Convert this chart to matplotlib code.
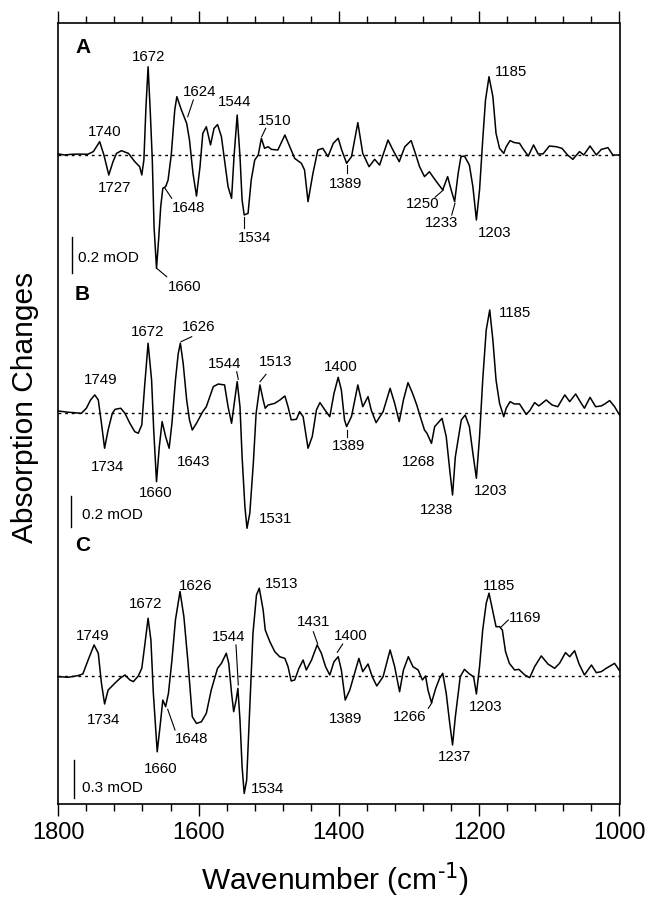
import matplotlib
matplotlib.use("Agg")
import matplotlib.pyplot as plt
from matplotlib.ticker import MultipleLocator
from matplotlib.transforms import Affine2D
from matplotlib.lines import Line2D

plt.rcParams['font.family'] = ['Liberation Sans', 'DejaVu Sans']
plt.rcParams['mathtext.default'] = 'regular'

# ---------------- data (wavenumber in cm-1, absorption change in mOD) ----------------
wn_a = [1800, 1791, 1781, 1769, 1758, 1750, 1741, 1735, 1728, 1722,
        1717, 1710, 1700, 1691, 1684, 1681, 1678, 1675, 1672, 1669,
        1666, 1663.5, 1660, 1657, 1654, 1651, 1647, 1643.5, 1639, 1634,
        1631, 1624.5, 1617, 1613, 1608, 1603, 1598, 1594, 1589, 1583,
        1578, 1573, 1567.5, 1563, 1558, 1553, 1549.5, 1545, 1541, 1538,
        1535, 1529.5, 1525, 1520, 1515, 1510.5, 1506, 1501, 1496, 1487,
        1477, 1470, 1463, 1453.5, 1449, 1444, 1437, 1430, 1423, 1415.5,
        1408, 1401, 1396, 1389, 1382, 1373, 1366, 1357, 1349, 1342,
        1330, 1323, 1314, 1306, 1297, 1291, 1285, 1278, 1271, 1261,
        1252, 1245, 1240, 1235, 1230, 1226, 1221, 1214, 1209, 1204,
        1199.5, 1195, 1191, 1186, 1180.5, 1176, 1171, 1165, 1161.5, 1156,
        1150, 1142.5, 1138, 1130, 1122.5, 1116, 1109, 1100, 1090, 1082,
        1074, 1066.5, 1057, 1051, 1042, 1033, 1026, 1016.5, 1009.5, 1000]
od_a = [0.006, 0.0, 0.004, 0.005, 0.004, 0.019, 0.074, 0.0, -0.111, -0.037,
        0.009, 0.024, 0.009, -0.037, -0.065, -0.111, -0.028, 0.27, 0.49, 0.25,
        -0.028, -0.40, -0.63, -0.47, -0.287, -0.185, -0.176, -0.139, 0.0, 0.25,
        0.324, 0.25, 0.176, 0.083, -0.102, -0.228, -0.065, 0.12, 0.157, 0.056,
        0.148, 0.169, 0.102, -0.028, -0.176, -0.241, -0.009, 0.222, -0.009, -0.25,
        -0.333, -0.324, -0.139, -0.028, 0.0, 0.093, 0.037, 0.046, 0.031, 0.028,
        0.111, 0.046, -0.019, -0.046, -0.083, -0.259, -0.102, 0.028, 0.037, -0.009,
        0.065, 0.093, 0.028, -0.046, -0.009, 0.18, 0.009, -0.065, -0.024, -0.056,
        0.083, 0.028, -0.037, 0.046, 0.08, 0.009, -0.065, -0.12, -0.093, -0.148,
        -0.194, -0.12, -0.194, -0.259, -0.102, -0.009, -0.006, -0.056, -0.176, -0.361,
        -0.194, 0.083, 0.306, 0.435, 0.324, 0.12, 0.037, 0.009, 0.046, 0.08,
        0.069, 0.065, 0.037, -0.006, 0.056, 0.006, 0.006, 0.05, 0.046, 0.037,
        0.0, -0.024, 0.019, 0.0, 0.05, 0.0, 0.031, 0.041, 0.0, 0.0]

wn_b = [1800, 1786, 1767, 1760, 1754, 1748, 1743, 1738.5, 1734, 1729,
        1723, 1719, 1711, 1705, 1698, 1691, 1686, 1681, 1677, 1672,
        1667, 1664, 1660, 1656, 1652, 1647, 1642, 1638, 1633, 1629,
        1626, 1622, 1617, 1613, 1609, 1603, 1598, 1594, 1589, 1584,
        1579, 1572, 1563, 1558, 1553, 1548.5, 1545, 1541, 1538, 1534,
        1531, 1527, 1522, 1518, 1512.5, 1508, 1505, 1501, 1491.5, 1484,
        1477, 1472.5, 1468, 1460.5, 1456, 1451, 1444, 1438, 1432, 1427,
        1420, 1413, 1407, 1401, 1396.5, 1392, 1389, 1382, 1373, 1366,
        1358.5, 1354, 1347, 1337, 1327, 1320.5, 1314, 1308, 1301.5, 1295,
        1289, 1284, 1278, 1274.5, 1268, 1263.5, 1257, 1253, 1247, 1242,
        1238, 1234, 1225.5, 1220, 1214, 1209, 1204, 1199.5, 1195, 1190,
        1185, 1180.5, 1176, 1171, 1165, 1161.5, 1156, 1150, 1142.5, 1133,
        1128, 1121, 1115, 1104.5, 1096, 1088, 1078, 1071, 1062.5, 1056,
        1050, 1042, 1034, 1026, 1021, 1014, 1007, 1000]
od_b = [0.015, 0.007, 0.0, 0.033, 0.087, 0.12, 0.087, -0.065, -0.228, -0.109,
        0.0, 0.026, 0.033, 0.0, -0.065, -0.12, -0.13, -0.076, 0.174, 0.457,
        0.217, -0.109, -0.446, -0.217, -0.054, -0.152, -0.228, -0.065, 0.217, 0.391,
        0.457, 0.326, 0.087, -0.043, -0.109, -0.065, -0.022, 0.011, 0.043, 0.109,
        0.174, 0.191, 0.185, 0.043, -0.065, 0.087, 0.207, 0.043, -0.283, -0.609,
        -0.75, -0.652, -0.326, 0.0, 0.185, 0.087, 0.033, 0.054, 0.065, 0.087,
        0.113, 0.043, -0.043, -0.039, 0.011, -0.022, -0.228, -0.152, 0.022, 0.07,
        0.022, -0.022, 0.13, 0.235, 0.152, -0.043, -0.087, -0.02, 0.185, 0.043,
        0.109, 0.022, -0.061, 0.011, 0.163, 0.065, -0.054, 0.087, 0.2, 0.13,
        0.054, -0.022, -0.109, -0.13, -0.196, -0.087, -0.054, -0.033, -0.152, -0.37,
        -0.533, -0.283, -0.043, -0.011, -0.087, -0.261, -0.424, -0.152, 0.217, 0.543,
        0.674, 0.478, 0.217, 0.065, -0.022, 0.033, 0.076, 0.061, 0.061, -0.007,
        0.017, 0.07, 0.048, 0.087, 0.054, 0.043, 0.12, 0.076, 0.126, 0.076,
        0.033, 0.104, 0.043, 0.048, 0.061, 0.083, 0.043, -0.011]

wn_c = [1800, 1786, 1772, 1765, 1757.5, 1749, 1743, 1738.5, 1734, 1729,
        1719.5, 1712, 1705, 1698, 1693, 1686, 1681, 1677, 1672, 1668,
        1664.5, 1659, 1655, 1651, 1647, 1643, 1638, 1633, 1626.5, 1621,
        1615, 1609, 1603, 1596, 1589, 1582, 1573, 1567.5, 1560.5, 1557,
        1553, 1550, 1546.5, 1544, 1541, 1538, 1535, 1531.5, 1527, 1522.5,
        1517.5, 1513.5, 1508, 1505, 1498.5, 1491.5, 1484.5, 1477, 1472.5, 1468,
        1463, 1457, 1451, 1446.5, 1439, 1431, 1425, 1419, 1413, 1407,
        1401, 1396.5, 1391, 1384.5, 1371.5, 1366, 1358.5, 1352.5, 1346, 1337,
        1327, 1320.5, 1313.5, 1308, 1301, 1294.5, 1287, 1281, 1276.5, 1273,
        1268, 1262, 1256.5, 1252, 1247, 1242, 1238, 1234, 1227, 1221,
        1214, 1208, 1204, 1199.5, 1195, 1190, 1186, 1181.5, 1176, 1171,
        1167, 1162.5, 1157, 1149.5, 1143.5, 1135, 1128, 1121, 1111.5, 1102,
        1092.5, 1085.5, 1077, 1071, 1064, 1058, 1050, 1040, 1033, 1026,
        1019, 1007, 1000]
od_c = [-0.005, -0.01, 0.003, 0.016, 0.125, 0.243, 0.178, -0.057, -0.219, -0.11,
        -0.057, -0.018, 0.008, -0.031, -0.044, 0.0, 0.06, 0.23, 0.452, 0.282,
        -0.136, -0.593, -0.397, -0.188, -0.24, -0.136, 0.125, 0.439, 0.661, 0.465,
        0.099, -0.319, -0.371, -0.358, -0.292, -0.11, 0.06, 0.099, 0.178, 0.099,
        -0.136, -0.279, -0.188, -0.097, -0.345, -0.71, -0.919, -0.815, -0.24, 0.334,
        0.634, 0.687, 0.517, 0.36, 0.269, 0.191, 0.151, 0.138, 0.073, -0.039,
        -0.031, 0.06, 0.125, 0.047, 0.125, 0.243, 0.178, 0.073, 0.008, 0.112,
        0.151, 0.047, -0.188, -0.11, 0.138, 0.034, 0.094, -0.005, -0.078, -0.005,
        0.204, 0.073, -0.123, 0.047, 0.151, 0.073, 0.047, -0.031, 0.0, -0.11,
        -0.209, -0.097, -0.018, 0.021, -0.136, -0.371, -0.54, -0.319, -0.005, 0.052,
        0.016, -0.005, -0.141, 0.073, 0.36, 0.569, 0.648, 0.53, 0.386, 0.386,
        0.36, 0.191, 0.099, 0.047, 0.052, 0.008, -0.013, 0.073, 0.157, 0.094,
        0.06, 0.099, 0.183, 0.151, 0.198, 0.099, 0.008, 0.086, 0.026, 0.034,
        0.06, 0.099, 0.042]

panel_letters = ["A", "B", "C"]
scale_bar_values = [0.2, 0.2, 0.3]          # mOD
scale_bar_labels = ["0.2 mOD", "0.2 mOD", "0.3 mOD"]

labels_a = ["1740", "1727", "1672", "1624", "1544", "1510", "1648", "1534",
            "1660", "1389", "1250", "1233", "1203", "1185"]
labels_b = ["1749", "1734", "1672", "1626", "1544", "1513", "1400", "1389",
            "1643", "1660", "1531", "1268", "1238", "1203", "1185"]
labels_c = ["1749", "1734", "1672", "1626", "1544", "1513", "1431", "1400",
            "1389", "1648", "1660", "1534", "1266", "1237", "1203", "1185", "1169"]

# ---------------- layout (pixels, origin top-left of the 650x898 figure) ----------------
W, H = 650, 898
L, R, T, B = 58.3, 619.5, 22.7, 804.3
baseline_px = [155.0, 413.3, 676.0]          # vertical position of each zero line
px_per_mod = [180.0, 153.3, 127.8]           # vertical scale of each panel
letter_pos = [(83, 47.5), (81.7, 294.5), (82.5, 545.5)]
bar_pos = [(72.3, 272.7), (71.0, 526.7), (74.3, 798.3)]     # x, bottom
bar_text_pos = [(78.0, 257.7), (81.7, 515.0), (82.3, 787.7)]

pos_a = [(105, 132), (115, 188), (148.3, 57), (200, 92), (235, 102), (275, 121),
         (188.3, 208), (255, 238), (185, 287), (346, 184), (422.7, 204), (441.7, 223),
         (494.5, 233), (511, 72.5)]
pos_b = [(100.7, 380), (107.3, 467.3), (147.3, 332.3), (199, 327.3), (225, 364),
         (276, 362.3), (341, 366.7), (349, 445.7), (193.3, 461.7), (155.7, 493.3),
         (276, 519.3), (418.3, 461.7), (436.7, 510), (491, 491), (515, 313.3)]
pos_c = [(92.7, 635.7), (103.3, 720), (145.7, 604), (196, 585.7), (229, 637.3),
         (281.3, 584), (314, 622.3), (350.8, 635.7), (346, 719), (191.7, 739),
         (161, 769.3), (268, 788.7), (410, 716.7), (454.5, 756.7), (485.8, 706.7),
         (499, 585.7), (525.5, 617.7)]
leaders = [((187.7, 116.7), (193.3, 100)), ((261.7, 136.7), (265.7, 128.3)),
           ((165, 188.3), (171.7, 198.3)), ((244.3, 216.7), (244.3, 228.3)),
           ((156.7, 268.3), (166.7, 276.7)), ((347.3, 165), (347.3, 173.3)),
           ((443.3, 190), (435, 197.3)), ((455, 203.3), (451.7, 215)),
           ((181, 341.7), (191.7, 336.7)), ((238.3, 379.3), (236.7, 371.7)),
           ((260, 381.7), (266, 374.3)), ((347.3, 430), (347.3, 436.7)),
           ((238.3, 685), (236, 645)), ((317.7, 644), (313.3, 631.7)),
           ((337.3, 652.3), (342.7, 644)), ((167.7, 709.3), (175, 730)),
           ((432, 702.7), (428.3, 708.3)), ((500.7, 627.3), (508.3, 620))]

# ---------------- figure ----------------
fig = plt.figure(figsize=(W / 100, H / 100), dpi=100)
rect = [L / W, 1 - B / H, (R - L) / W, (B - T) / H]
ax = fig.add_axes(rect)
ax.set_xlim(1800, 1000)
ax.set_ylim(0, 1)
ax.set_yticks([])
ax.xaxis.set_major_locator(MultipleLocator(200))
ax.xaxis.set_minor_locator(MultipleLocator(40))
ax.tick_params(axis='x', which='both', direction='out', top=True, bottom=True,
               labeltop=False, width=1.0, labelsize=17, pad=4)
ax.tick_params(axis='x', which='major', length=8.4)
ax.tick_params(axis='x', which='minor', length=4.8)
for sp in ax.spines.values():
    sp.set_linewidth(1.2)

ax.set_xlabel(r'Wavenumber (cm$^{\text{-1}}$)', fontsize=21.5)
ax.xaxis.set_label_coords((335 - L) / (R - L), (B - 879) / (B - T))
ax.xaxis.label.set_va('center')
ax.set_ylabel('Absorption Changes', fontsize=21.5)
ax.yaxis.set_label_coords((25 - L) / (R - L), (B - 407) / (B - T))
ax.yaxis.label.set_va('center')

pix = Affine2D().scale(1 / W, -1 / H).translate(0, 1) + fig.transFigure

spectra = [(wn_a, od_a), (wn_b, od_b), (wn_c, od_c)]
for i, (wn, od) in enumerate(spectra):
    pax = fig.add_axes(rect, label=f"panel{i}")
    pax.set_xlim(1800, 1000)
    pax.set_ylim(-(B - baseline_px[i]) / px_per_mod[i], (baseline_px[i] - T) / px_per_mod[i])
    pax.axis('off')
    pax.patch.set_visible(False)
    pax.axhline(0, color='black', lw=1.0, ls=(0, (2.0, 2.8)))
    pax.plot(wn, od, color='black', lw=1.1, clip_on=False,
             solid_joinstyle='round', solid_capstyle='round')
    # scale bar
    bx, by = bar_pos[i]
    bwn = 1800 - (bx - L) * 800 / (R - L)
    y0 = (baseline_px[i] - by) / px_per_mod[i]
    pax.plot([bwn, bwn], [y0, y0 + scale_bar_values[i]], color='black', lw=1.0)
    tx, ty = bar_text_pos[i]
    fig.text(tx, ty, scale_bar_labels[i], transform=pix, ha='left', va='center', fontsize=11)
    lx, ly = letter_pos[i]
    fig.text(lx, ly, panel_letters[i], transform=pix, ha='center', va='center',
             fontsize=15, fontweight='bold')

for labels, positions in [(labels_a, pos_a), (labels_b, pos_b), (labels_c, pos_c)]:
    for s, (x, y) in zip(labels, positions):
        fig.text(x, y, s, transform=pix, ha='center', va='center', fontsize=10.8)

for (x1, y1), (x2, y2) in leaders:
    fig.add_artist(Line2D([x1, x2], [y1, y2], transform=pix, color='black', lw=0.8))

fig.savefig('out.png', dpi=100)
